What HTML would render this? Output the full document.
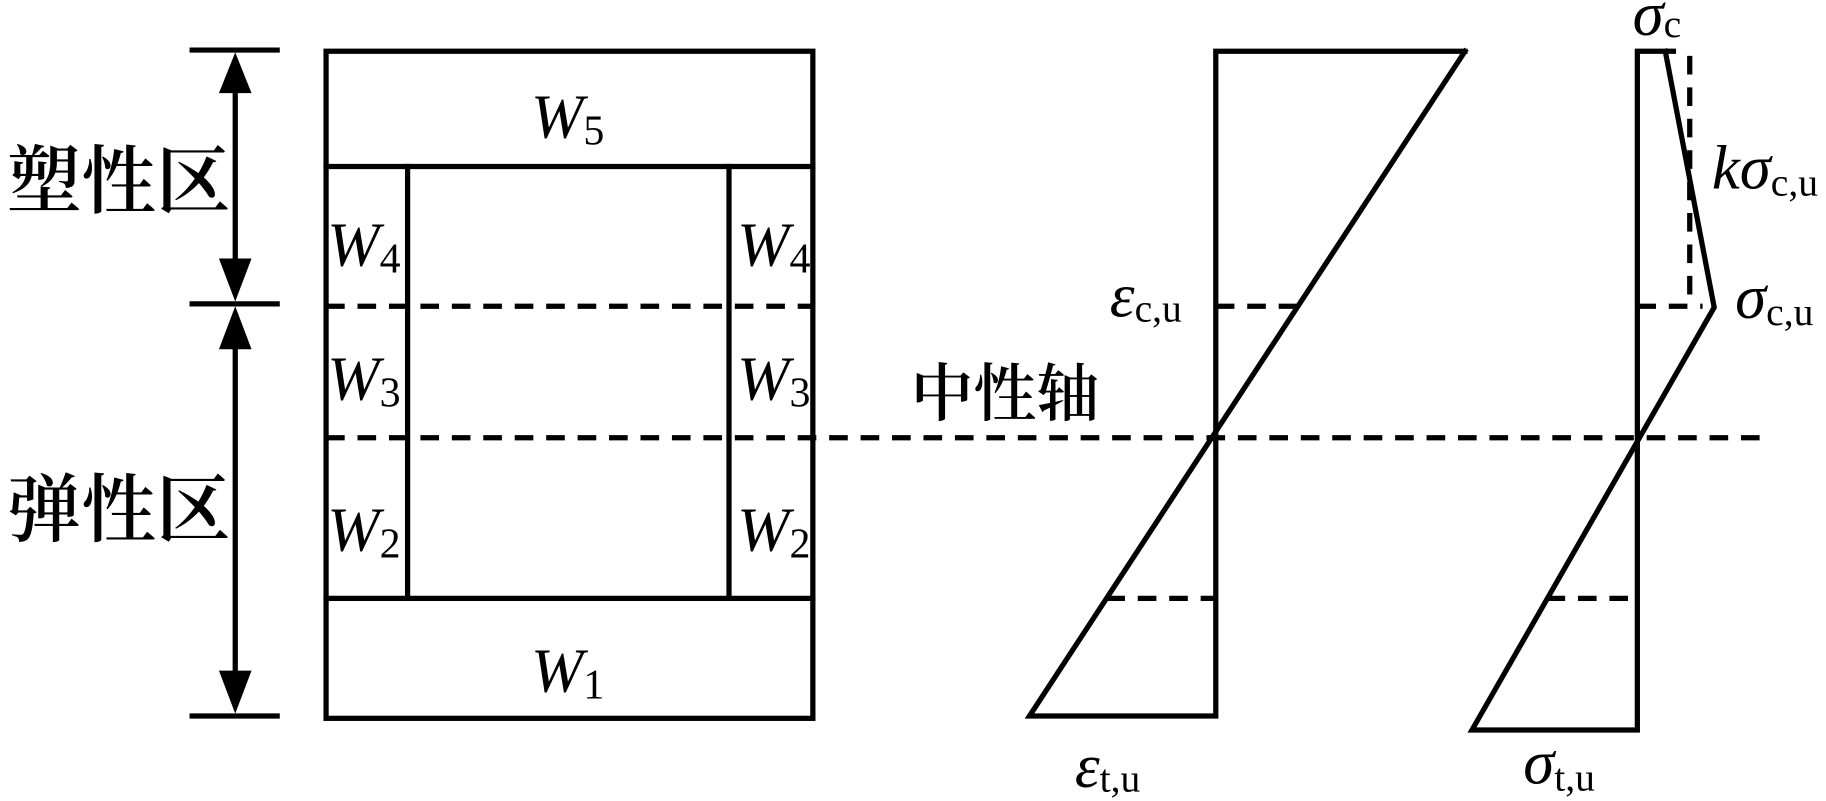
<!DOCTYPE html>
<html><head><meta charset="utf-8"><style>
html,body{margin:0;padding:0;background:#fff;width:1826px;height:801px;overflow:hidden}
svg{display:block}
.t{font-family:"Liberation Serif",serif;font-style:italic;fill:#000}
.s{font-family:"Liberation Serif",serif;font-style:normal;fill:#000}
.c{font-family:"Liberation Serif","Noto Serif CJK SC",serif;fill:#000;font-weight:600}
</style></head><body>
<svg width="1826" height="801" viewBox="0 0 1568 688" preserveAspectRatio="none" xmlns="http://www.w3.org/2000/svg">
<g stroke="#000" stroke-width="4.5" fill="none" stroke-linecap="square">
<line x1="165" y1="43" x2="238" y2="43"/>
<line x1="165" y1="261" x2="238" y2="261"/>
<line x1="165" y1="615" x2="238" y2="615"/>
<line x1="202" y1="80" x2="202" y2="225"/>
<line x1="202" y1="298" x2="202" y2="578"/>
<rect x="280" y="44" width="418" height="573"/>
<line x1="280" y1="143" x2="698" y2="143"/>
<line x1="280" y1="514" x2="698" y2="514"/>
<line x1="350" y1="143" x2="350" y2="514"/>
<line x1="626" y1="143" x2="626" y2="514"/>
<polyline points="1258,44 1044,44 1044,615 884,615 1258,44" stroke-linejoin="miter"/>
<polyline points="1437,44 1406,44 1406,627 1264,627 1472,264 1430,44"/>
</g>
<g fill="#000">
<polygon points="202,45 188,80 216,80"/>
<polygon points="202,259 188,222 216,222"/>
<polygon points="202,263 188,300 216,300"/>
<polygon points="202,613 188,576 216,576"/>
</g>
<g stroke="#000" stroke-width="4.5" fill="none" stroke-dasharray="16,11">
<line x1="280" y1="263" x2="698" y2="263"/>
<line x1="280" y1="376" x2="1518" y2="376"/>
<line x1="1044" y1="263" x2="1117" y2="263"/>
<line x1="950" y1="514" x2="1044" y2="514"/>
<line x1="1406" y1="263" x2="1462" y2="263"/>
<line x1="1328" y1="514" x2="1406" y2="514"/>
<line x1="1451" y1="48" x2="1451" y2="262"/>
</g>
<text class="c" x="6" y="178" font-size="64">塑性区</text>
<text class="c" x="6" y="460" font-size="64">弹性区</text>
<text class="c" x="782" y="357" font-size="54">中性轴</text>
<g font-size="54">
<text class="t" x="456" y="118">W<tspan class="s" font-size="36" dy="6">5</tspan></text>
<text class="t" x="456" y="594">W<tspan class="s" font-size="36" dy="6">1</tspan></text>
<text class="t" x="281" y="228">W<tspan class="s" font-size="36" dy="6">4</tspan></text>
<text class="t" x="281" y="343">W<tspan class="s" font-size="36" dy="6">3</tspan></text>
<text class="t" x="281" y="473">W<tspan class="s" font-size="36" dy="6">2</tspan></text>
<text class="t" x="633" y="228">W<tspan class="s" font-size="36" dy="6">4</tspan></text>
<text class="t" x="633" y="343">W<tspan class="s" font-size="36" dy="6">3</tspan></text>
<text class="t" x="633" y="473">W<tspan class="s" font-size="36" dy="6">2</tspan></text>
<text class="t" x="953" y="272">ε<tspan class="s" font-size="34" dy="4">c,u</tspan></text>
<text class="t" x="923" y="676">ε<tspan class="s" font-size="34" dy="4">t,u</tspan></text>
<text class="t" x="1402" y="30">σ<tspan class="s" font-size="34" dy="2">c</tspan></text>
<text class="t" x="1470" y="162">kσ<tspan class="s" font-size="34" dy="6">c,u</tspan></text>
<text class="t" x="1490" y="273">σ<tspan class="s" font-size="34" dy="6">c,u</tspan></text>
<text class="t" x="1308" y="673">σ<tspan class="s" font-size="34" dy="6">t,u</tspan></text>
</g>
</svg>
</body></html>
